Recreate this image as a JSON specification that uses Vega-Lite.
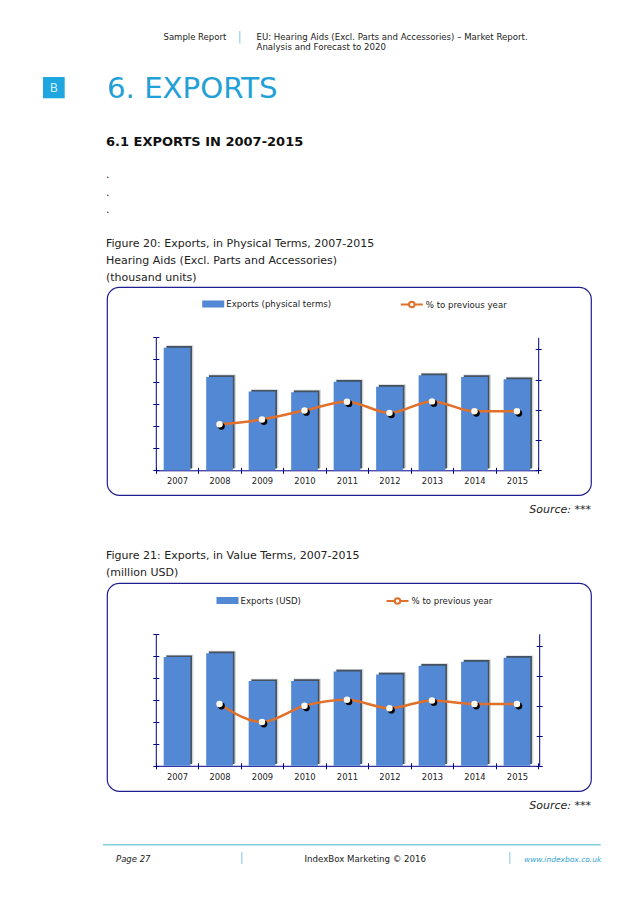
{"$schema":"https://vega.github.io/schema/vega-lite/v6.json","padding":0,"background":"white","spacing":0,
"resolve":{"scale":{"fill":"independent","stroke":"independent"},"legend":{"fill":"independent","stroke":"independent"}},
"config":{"view":{"stroke":null},"title":{"anchor":"start","frame":"group","baseline":"top","offset":0,"font":"DejaVu Sans","fontWeight":"normal","fontSize":11,"color":"#222222"},"legend":{"labelFont":"DejaVu Sans","labelFontSize":8.6,"labelColor":"#222222","padding":0,"labelOffset":2,"title":null},"axis":{"grid":false,"title":null}},
"datasets":{
"d1":[{"year":"2007","units":553,"pct":null},{"year":"2008","units":421,"pct":76},{"year":"2009","units":355,"pct":84},{"year":"2010","units":352,"pct":99},{"year":"2011","units":400,"pct":113.5},{"year":"2012","units":377,"pct":95},{"year":"2013","units":429,"pct":114},{"year":"2014","units":421,"pct":97.5},{"year":"2015","units":411,"pct":97.5}],
"d2":[{"year":"2007","units":494,"pct":null},{"year":"2008","units":512,"pct":103},{"year":"2009","units":385,"pct":73},{"year":"2010","units":386,"pct":100},{"year":"2011","units":429,"pct":110},{"year":"2012","units":415,"pct":96},{"year":"2013","units":455,"pct":109},{"year":"2014","units":473,"pct":103},{"year":"2015","units":491,"pct":103}]},
"vconcat":[
{"width":638,"height":30.7,"data":{"values":[]},"mark":"text","encoding":{}},
{"bounds":"flush","spacing":0,"hconcat":[
 {"width":239,"height":20,"data":{"values":[]},"mark":"text","encoding":{},"title":{"text":"Sample Report","dx":163.5,"dy":14.5,"fontSize":8.5}},
 {"width":1.5,"height":12.6,"view":{"fill":"#a9dcee","stroke":null},"data":{"values":[]},"mark":"text","encoding":{}},
 {"width":397.5,"height":20,"data":{"values":[]},"mark":"text","encoding":{},"title":{"text":["EU: Hearing Aids (Excl. Parts and Accessories) – Market Report.","Analysis and Forecast to 2020"],"dx":15.5,"dy":24.3,"fontSize":8.6,"lineHeight":9.7}}]},
{"width":638,"height":21.2,"data":{"values":[]},"mark":"text","encoding":{}},
{"bounds":"flush","spacing":0,"hconcat":[
 {"width":42.3,"height":21.3,"data":{"values":[]},"mark":"text","encoding":{}},
 {"width":21.7,"height":21.3,"view":{"fill":"#1da6e0","stroke":null},"data":{"values":[]},"mark":"text","encoding":{},"title":{"text":"B","anchor":"middle","dy":22.3,"fontSize":12,"color":"#cdeefa"}},
 {"width":574,"height":30,"data":{"values":[]},"mark":"text","encoding":{},"title":{"text":"6. EXPORTS","dx":42,"dy":30.8,"fontSize":29.2,"color":"#22a0d8"}}]},
{"width":638,"height":45,"data":{"values":[]},"mark":"text","encoding":{},"title":{"text":"6.1 EXPORTS IN 2007-2015","dx":106,"dy":45.6,"fontSize":13,"fontWeight":"bold","color":"#111111"}},
{"width":638,"height":65,"data":{"values":[]},"mark":"text","encoding":{},"title":{"text":[".",".","."],"dx":106,"dy":67.3,"lineHeight":17.5}},
{"width":638,"height":68.3,"data":{"values":[]},"mark":"text","encoding":{},"title":{"text":["Figure 20: Exports, in Physical Terms, 2007-2015","Hearing Aids (Excl. Parts and Accessories)","(thousand units)"],"dx":106,"dy":69.6,"lineHeight":17}},
{"bounds":"flush","spacing":0,"resolve":{"scale":{"fill":"independent","stroke":"independent"},"legend":{"fill":"independent","stroke":"independent"}},"hconcat":[
 {"width":106.5,"height":208,"data":{"values":[]},"mark":"text","encoding":{}},
 {"width":484,"height":208,"view":{"stroke":"#1f1f8f","strokeWidth":1.2,"cornerRadius":12},"data":{"name":"d1"},
  "resolve":{"scale":{"y":"independent"},"axis":{"x":"independent","y":"independent"}},
  "layer":[
  {"mark":{"type":"bar","size":27.5,"xOffset":2.6,"yOffset":-2.4,"color":"#8d949c","opacity":0.4},"encoding":{"x":{"field":"year","type":"nominal","axis":null,"scale":{"type":"band","range":[48.8,431.2],"paddingInner":0,"paddingOuter":0}},"y":{"field":"units","type":"quantitative","axis":null,"scale":{"domain":[0,600],"range":[183.3,50.3]}}}},
  {"mark":{"type":"bar","size":25.5,"xOffset":2.2,"yOffset":-1.7,"color":"#45515e"},"encoding":{"x":{"field":"year","type":"nominal","axis":{"orient":"bottom","offset":-24.7,"labels":false,"domain":false,"tickBand":"extent","tickSize":-3,"tickColor":"#00008b"},"scale":{"type":"band","range":[48.8,431.2],"paddingInner":0,"paddingOuter":0}},"y":{"field":"units","type":"quantitative","axis":{"orient":"left","offset":-48.8,"labels":false,"domain":false,"values":[0,100,200,300,400,500,600],"tickSize":-3,"tickColor":"#00008b"},"scale":{"domain":[0,600],"range":[183.3,50.3]}}}},
  {"mark":{"type":"bar","size":26.7},"encoding":{"x":{"field":"year","type":"nominal","axis":{"orient":"bottom","offset":-24.7,"labelAngle":0,"labelFont":"DejaVu Sans","labelFontSize":8.4,"labelColor":"#222222","labelPadding":3,"tickBand":"extent","tickSize":3,"tickColor":"#00008b","domainColor":"#00008b"},"scale":{"type":"band","range":[48.8,431.2],"paddingInner":0,"paddingOuter":0}},"y":{"field":"units","type":"quantitative","axis":{"orient":"left","offset":-48.8,"labels":false,"values":[0,100,200,300,400,500,600],"tickSize":3,"tickColor":"#00008b","domainColor":"#00008b"},"scale":{"domain":[0,600],"range":[183.3,50.3]}},"fill":{"datum":"Exports (physical terms)","scale":{"range":["#5288d4"]},"legend":{"orient":"none","legendX":95.2,"legendY":6,"symbolType":"M-1,-0.32H1V0.32H-1Z","symbolSize":484,"symbolStrokeWidth":0}}}},
  {"mark":{"type":"line","strokeWidth":2.5,"interpolate":"monotone"},"encoding":{"x":{"field":"year","type":"nominal","axis":null,"scale":{"type":"band","range":[48.8,431.2],"paddingInner":0,"paddingOuter":0}},"y":{"field":"pct","type":"quantitative","axis":{"orient":"right","offset":-52.8,"labels":false,"values":[0,50,100,150,200],"tickSize":3,"tickColor":"#00008b","domainColor":"#00008b"},"scale":{"domain":[0,220],"range":[183.3,50.3]}},"stroke":{"datum":"% to previous year","scale":{"range":["#e0702a"]},"legend":{"orient":"none","legendX":292.8,"legendY":5.5,"symbolType":"M-1,0H-0.25A0.25,0.25 0 1 1 0.25,0A0.25,0.25 0 1 1 -0.25,0M0.25,0H1","symbolSize":484,"symbolStrokeWidth":2,"symbolFillColor":"#ffffff"}}}},
  {"mark":{"type":"circle","size":46,"color":"#000000","opacity":1,"xOffset":1.9,"yOffset":2},"encoding":{"x":{"field":"year","type":"nominal","axis":null,"scale":{"type":"band","range":[48.8,431.2],"paddingInner":0,"paddingOuter":0}},"y":{"field":"pct","type":"quantitative","axis":null,"scale":{"domain":[0,220],"range":[183.3,50.3]}}}},
  {"mark":{"type":"circle","size":42,"color":"#fff8ec","opacity":1},"encoding":{"x":{"field":"year","type":"nominal","axis":null,"scale":{"type":"band","range":[48.8,431.2],"paddingInner":0,"paddingOuter":0}},"y":{"field":"pct","type":"quantitative","axis":{"orient":"right","offset":-52.8,"labels":false,"domain":false,"values":[0,50,100,150,200],"tickSize":-3,"tickColor":"#00008b"},"scale":{"domain":[0,220],"range":[183.3,50.3]}}}}
 ]}]},
{"width":638,"height":30,"data":{"values":[]},"mark":"text","encoding":{},"title":{"text":"Source: ***","anchor":"end","dx":-47,"dy":23,"fontStyle":"italic"}},
{"width":638,"height":55.5,"data":{"values":[]},"mark":"text","encoding":{},"title":{"text":["Figure 21: Exports, in Value Terms, 2007-2015","(million USD)"],"dx":106,"dy":56,"lineHeight":17}},
{"bounds":"flush","spacing":0,"resolve":{"scale":{"fill":"independent","stroke":"independent"},"legend":{"fill":"independent","stroke":"independent"}},"hconcat":[
 {"width":106.5,"height":208,"data":{"values":[]},"mark":"text","encoding":{}},
 {"width":484,"height":208,"view":{"stroke":"#1f1f8f","strokeWidth":1.2,"cornerRadius":12},"data":{"name":"d2"},
  "resolve":{"scale":{"y":"independent"},"axis":{"x":"independent","y":"independent"}},
  "layer":[
  {"mark":{"type":"bar","size":27.5,"xOffset":2.6,"yOffset":-2.4,"color":"#8d949c","opacity":0.4},"encoding":{"x":{"field":"year","type":"nominal","axis":null,"scale":{"type":"band","range":[48.8,431.2],"paddingInner":0,"paddingOuter":0}},"y":{"field":"units","type":"quantitative","axis":null,"scale":{"domain":[0,600],"range":[182.8,50.8]}}}},
  {"mark":{"type":"bar","size":25.5,"xOffset":2.2,"yOffset":-1.7,"color":"#45515e"},"encoding":{"x":{"field":"year","type":"nominal","axis":{"orient":"bottom","offset":-25.2,"labels":false,"domain":false,"tickBand":"extent","tickSize":-3,"tickColor":"#00008b"},"scale":{"type":"band","range":[48.8,431.2],"paddingInner":0,"paddingOuter":0}},"y":{"field":"units","type":"quantitative","axis":{"orient":"left","offset":-48.8,"labels":false,"domain":false,"values":[0,100,200,300,400,500,600],"tickSize":-3,"tickColor":"#00008b"},"scale":{"domain":[0,600],"range":[182.8,50.8]}}}},
  {"mark":{"type":"bar","size":26.7},"encoding":{"x":{"field":"year","type":"nominal","axis":{"orient":"bottom","offset":-25.2,"labelAngle":0,"labelFont":"DejaVu Sans","labelFontSize":8.4,"labelColor":"#222222","labelPadding":4,"tickBand":"extent","tickSize":3,"tickColor":"#00008b","domainColor":"#00008b"},"scale":{"type":"band","range":[48.8,431.2],"paddingInner":0,"paddingOuter":0}},"y":{"field":"units","type":"quantitative","axis":{"orient":"left","offset":-48.8,"labels":false,"values":[0,100,200,300,400,500,600],"tickSize":3,"tickColor":"#00008b","domainColor":"#00008b"},"scale":{"domain":[0,600],"range":[182.8,50.8]}},"fill":{"datum":"Exports (USD)","scale":{"range":["#5288d4"]},"legend":{"orient":"none","legendX":109.5,"legendY":6.5,"symbolType":"M-1,-0.32H1V0.32H-1Z","symbolSize":484,"symbolStrokeWidth":0}}}},
  {"mark":{"type":"line","strokeWidth":2.5,"interpolate":"monotone"},"encoding":{"x":{"field":"year","type":"nominal","axis":null,"scale":{"type":"band","range":[48.8,431.2],"paddingInner":0,"paddingOuter":0}},"y":{"field":"pct","type":"quantitative","axis":{"orient":"right","offset":-51.8,"labels":false,"values":[0,50,100,150,200],"tickSize":3,"tickColor":"#00008b","domainColor":"#00008b"},"scale":{"domain":[0,220],"range":[182.8,50.8]}},"stroke":{"datum":"% to previous year","scale":{"range":["#e0702a"]},"legend":{"orient":"none","legendX":278.5,"legendY":6,"symbolType":"M-1,0H-0.25A0.25,0.25 0 1 1 0.25,0A0.25,0.25 0 1 1 -0.25,0M0.25,0H1","symbolSize":484,"symbolStrokeWidth":2,"symbolFillColor":"#ffffff"}}}},
  {"mark":{"type":"circle","size":46,"color":"#000000","opacity":1,"xOffset":1.9,"yOffset":2},"encoding":{"x":{"field":"year","type":"nominal","axis":null,"scale":{"type":"band","range":[48.8,431.2],"paddingInner":0,"paddingOuter":0}},"y":{"field":"pct","type":"quantitative","axis":null,"scale":{"domain":[0,220],"range":[182.8,50.8]}}}},
  {"mark":{"type":"circle","size":42,"color":"#fff8ec","opacity":1},"encoding":{"x":{"field":"year","type":"nominal","axis":null,"scale":{"type":"band","range":[48.8,431.2],"paddingInner":0,"paddingOuter":0}},"y":{"field":"pct","type":"quantitative","axis":{"orient":"right","offset":-51.8,"labels":false,"domain":false,"values":[0,50,100,150,200],"tickSize":-3,"tickColor":"#00008b"},"scale":{"domain":[0,220],"range":[182.8,50.8]}}}}
 ]}]},
{"width":638,"height":51.5,"data":{"values":[]},"mark":"text","encoding":{},"title":{"text":"Source: ***","anchor":"end","dx":-47,"dy":22.5,"fontStyle":"italic"}},
{"bounds":"flush","spacing":0,"hconcat":[
 {"width":103,"height":1.5,"data":{"values":[]},"mark":"text","encoding":{}},
 {"width":497.7,"height":1.5,"view":{"fill":"#7fcfe0","stroke":null},"data":{"values":[]},"mark":"text","encoding":{}}]},
{"width":638,"height":5.2,"data":{"values":[]},"mark":"text","encoding":{}},
{"bounds":"flush","spacing":0,"hconcat":[
 {"width":241,"height":12,"data":{"values":[]},"mark":"text","encoding":{},"title":{"text":"Page 27","dx":116,"dy":15.3,"fontStyle":"italic","fontSize":8.5}},
 {"width":1.5,"height":12,"view":{"fill":"#a9dcee","stroke":null},"data":{"values":[]},"mark":"text","encoding":{}},
 {"width":265.2,"height":12,"data":{"values":[]},"mark":"text","encoding":{},"title":{"text":"IndexBox Marketing © 2016","dx":61.5,"dy":15.3,"fontSize":8.65}},
 {"width":1.5,"height":12,"view":{"fill":"#a9dcee","stroke":null},"data":{"values":[]},"mark":"text","encoding":{}},
 {"width":128.8,"height":12,"data":{"values":[]},"mark":"text","encoding":{},"title":{"text":"www.indexbox.co.uk","dx":13,"dy":15.3,"fontStyle":"italic","fontSize":7.5,"color":"#2f9fd0"}}]},
{"width":638,"height":39,"data":{"values":[]},"mark":"text","encoding":{}}
]}
